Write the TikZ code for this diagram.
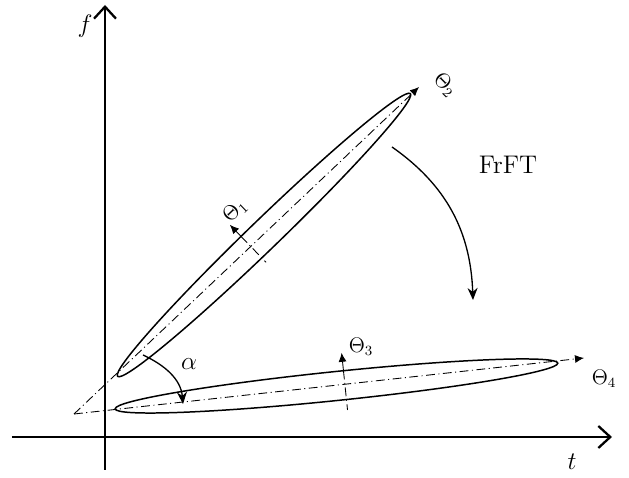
\documentclass[tikz,border=0pt]{standalone}
\usepackage{amsfonts,amssymb,amsmath}
\usepackage{tikz}
\usetikzlibrary{arrows.meta}

\begin{document}
\begin{tikzpicture}[>=Stealth,
axis/.style={line width=1.3pt,-{Straight Barb[length=2.4mm,width=4.4mm]}},
dashdot/.style={line width=0.5pt,dash pattern=on 5pt off 2pt on 0.6pt off 2pt},
ray/.style={dashdot,-{Latex[length=1.8mm,width=1.6mm]}},
spindle/.style={line width=0.85pt},
turn/.style={line width=0.75pt,-{Stealth[length=2.4mm,width=2mm]}},
lab/.style={font=\large}]
\useasboundingbox(-2.1,-0.82)rectangle(10.48,8.74);
\coordinate(tl)at(-1.86,0);
\coordinate(tr)at(10.14,0);
\coordinate(fb)at(0,-0.66);
\coordinate(ft)at(0,8.64);
\draw[axis](tl)--(tr);
\draw[axis](fb)--(ft);
\node[font=\Large](t)at(9.34,-0.5){$t$};
\node[font=\Large](f)at(-0.4,8.22){$f$};
\coordinate(o)at(-0.62,0.46);
\coordinate(e2)at(6.28,7.00);
\coordinate(e4)at(9.58,1.58);
\draw[ray](o)--(e2);
\draw[ray](o)--(e4);
\node[lab,rotate=-45](th2)at(6.8,7.04){$\Theta_2$};
\node[lab](th4)at(9.98,1.16){$\Theta_4$};
\begin{scope}[shift={(3.18,4.04)},rotate=44]
\draw[spindle](0,0)ellipse[x radius=4.07,y radius=0.3];
\coordinate(a1)at(-0.35,0.3);
\coordinate(b1)at(-0.35,0.62);
\coordinate(c1)at(-0.35,-0.42);
\end{scope}
\draw[dashdot](a1)--(c1);
\draw[-{Latex[length=1.8mm,width=1.6mm]},line width=0.5pt](a1)--(b1);
\node[lab,rotate=44](th1)at(2.6,4.52){$\Theta_1$};
\begin{scope}[shift={(4.63,1.02)},rotate=5.9]
\draw[spindle](0,0)ellipse[x radius=4.45,y radius=0.29];
\coordinate(a3)at(0.17,0.29);
\coordinate(b3)at(0.17,0.65);
\coordinate(c3)at(0.17,-0.5);
\end{scope}
\draw[dashdot](a3)--(c3);
\draw[-{Latex[length=1.8mm,width=1.6mm]},line width=0.5pt](a3)--(b3);
\node[lab](th3)at(5.12,1.8){$\Theta_3$};
\coordinate(s0)at(0.76,1.64);
\coordinate(s1)at(1.56,0.66);
\draw[turn](s0)to[out=-25,in=95](s1);
\node[font=\Large](al)at(1.68,1.46){$\alpha$};
\coordinate(r0)at(5.74,5.8);
\coordinate(r1)at(7.36,2.74);
\draw[turn](r0)to[out=-35,in=92](r1);
\node(fr)at(8.06,5.44){\fontsize{14.5}{17}\selectfont FrFT};
\end{tikzpicture}
\end{document}
